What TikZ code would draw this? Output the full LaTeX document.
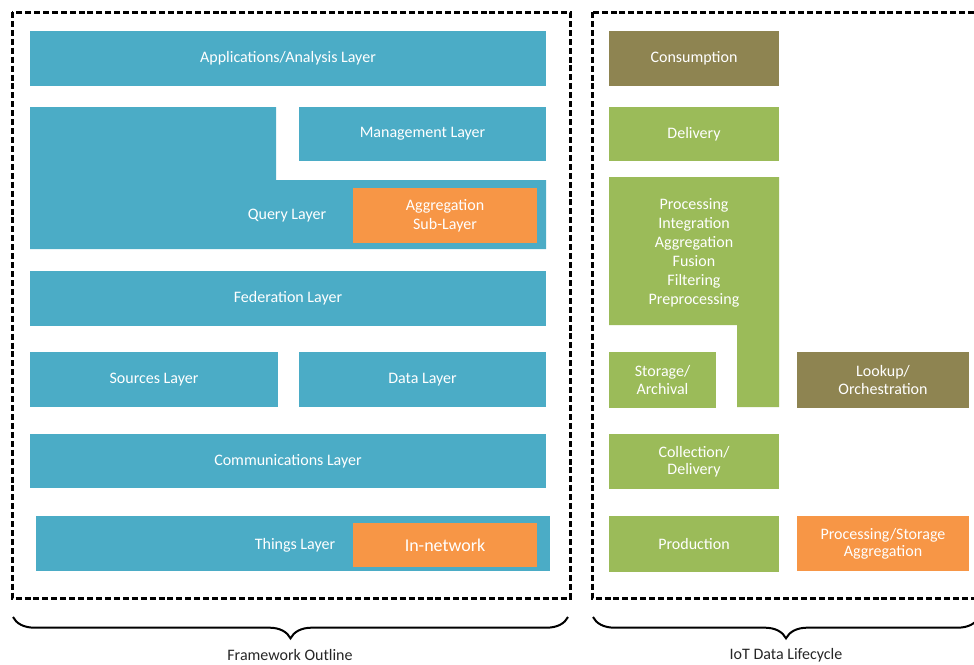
\documentclass[tikz,border=0pt]{standalone}
\usepackage{fontspec}
\setmainfont{Carlito}
\usepackage{tikz}
\usetikzlibrary{positioning,decorations.pathreplacing}
\definecolor{layerblue}{HTML}{4BACC6}
\definecolor{lifegreen}{HTML}{9BBB59}
\definecolor{aggorange}{HTML}{F79646}
\definecolor{olive}{HTML}{8E8451}
\definecolor{bk85}{HTML}{262626}
\newcommand{\boxfont}{\fontsize{12}{14.2}\selectfont}
\newcommand{\pairfont}{\fontsize{12}{12.8}\selectfont}
\newcommand{\capfont}{\fontsize{12}{14}\selectfont}
\tikzset{
  layerbox/.style={
    rectangle, fill=#1, draw=none, inner sep=0pt,
    text=white, font=\boxfont, align=center
  },
  layerbox/.default=layerblue,
  % size given in picture units (pixels of the grid)
  sized/.style 2 args={minimum width=#1*0.75pt, minimum height=#2*0.75pt},
  boxlabel/.style={text=white, font=\boxfont, align=center, inner sep=0pt},
  outline/.style={
    draw=black, line width=2.25pt, dash pattern=on 4.5pt off 2.2pt
  },
  brace/.style={
    decorate, decoration={brace, amplitude=16pt, mirror},
    line width=1.5pt, color=black
  },
  caption/.style={font=\capfont, color=bk85},
}
\begin{document}
\begin{tikzpicture}[x=0.75pt, y=-0.75pt]
  \clip (0,0) rectangle (974,664);

  % Dotted outlines of the two halves
  \draw[outline] (12,12) rectangle (570,598);
  \draw[outline] (592,12) rectangle (992,598);

  % ── Framework outline (left) ──
  \node[layerbox, sized={516}{55}] (apps) at (288,58.5) {Applications/Analysis Layer};
  \node[layerbox, sized={247}{54}] (mgmt) at (422.5,134) {Management Layer};
  % Query layer is L-shaped, wrapping round the management layer
  \fill[layerblue] (30,107) -| (276,180) -| (546,249) -| cycle;
  \node[boxlabel] (query) at (287,216) {Query Layer};
  \node[layerbox=aggorange, sized={184}{55}] (aggsub) at (445,215.5) {Aggregation\\Sub-Layer};
  \node[layerbox, sized={516}{55}] (fed) at (288,298.5) {Federation Layer};
  \node[layerbox, sized={248}{55}] (src) at (154,379.5) {Sources Layer};
  \node[layerbox, sized={247}{55}] (data) at (422.5,379.5) {Data Layer};
  \node[layerbox, sized={516}{54}] (comm) at (288,461) {Communications Layer};
  \node[layerbox, sized={514}{55}] (things) at (293,543.5) {};
  \node[boxlabel] (thingslbl) at (295,545) {Things Layer};
  \node[layerbox=aggorange, sized={184}{44},
        font=\fontsize{13.5}{16}\selectfont] (innet) at (445,545) {In-network};

  % ── IoT data lifecycle (right) ──
  \node[layerbox=olive, sized={170}{55}] (cons) at (694,58.5) {Consumption};
  \node[layerbox=lifegreen, sized={170}{54}] (deliv) at (694,134) {Delivery};
  % Processing block runs down beside storage
  \fill[lifegreen] (609,177) -| (779,407) -| (737,325) -| cycle;
  \node[boxlabel] (proc) at (694,253)
    {Processing\\Integration\\Aggregation\\Fusion\\Filtering\\Preprocessing};
  \node[layerbox=lifegreen, sized={107}{56}, font=\pairfont] (store) at (662.5,380) {Storage/\\Archival};
  \node[layerbox=olive, sized={172}{56}, font=\pairfont] (lookup) at (883,380) {Lookup/\\Orchestration};
  \node[layerbox=lifegreen, sized={170}{55}, font=\pairfont] (coll) at (694,461.5) {Collection/\\Delivery};
  \node[layerbox=lifegreen, sized={170}{56}] (prod) at (694,544) {Production};
  \node[layerbox=aggorange, sized={172}{55}, font=\pairfont] (procstore) at (883,543.5)
    {Processing/Storage\\Aggregation};

  % Braces and captions
  \coordinate (fwL) at (13,617);
  \coordinate (fwR) at (568,617);
  \coordinate (lcL) at (593,617);
  \coordinate (lcR) at (979,617);
  \draw[brace] (fwL) -- (fwR);
  \draw[brace] (lcL) -- (lcR);
  \node[caption] (fwcap) at (290,655) {Framework Outline};
  \node[caption] (lccap) at (786,655) {IoT Data Lifecycle};

\end{tikzpicture}
\end{document}
